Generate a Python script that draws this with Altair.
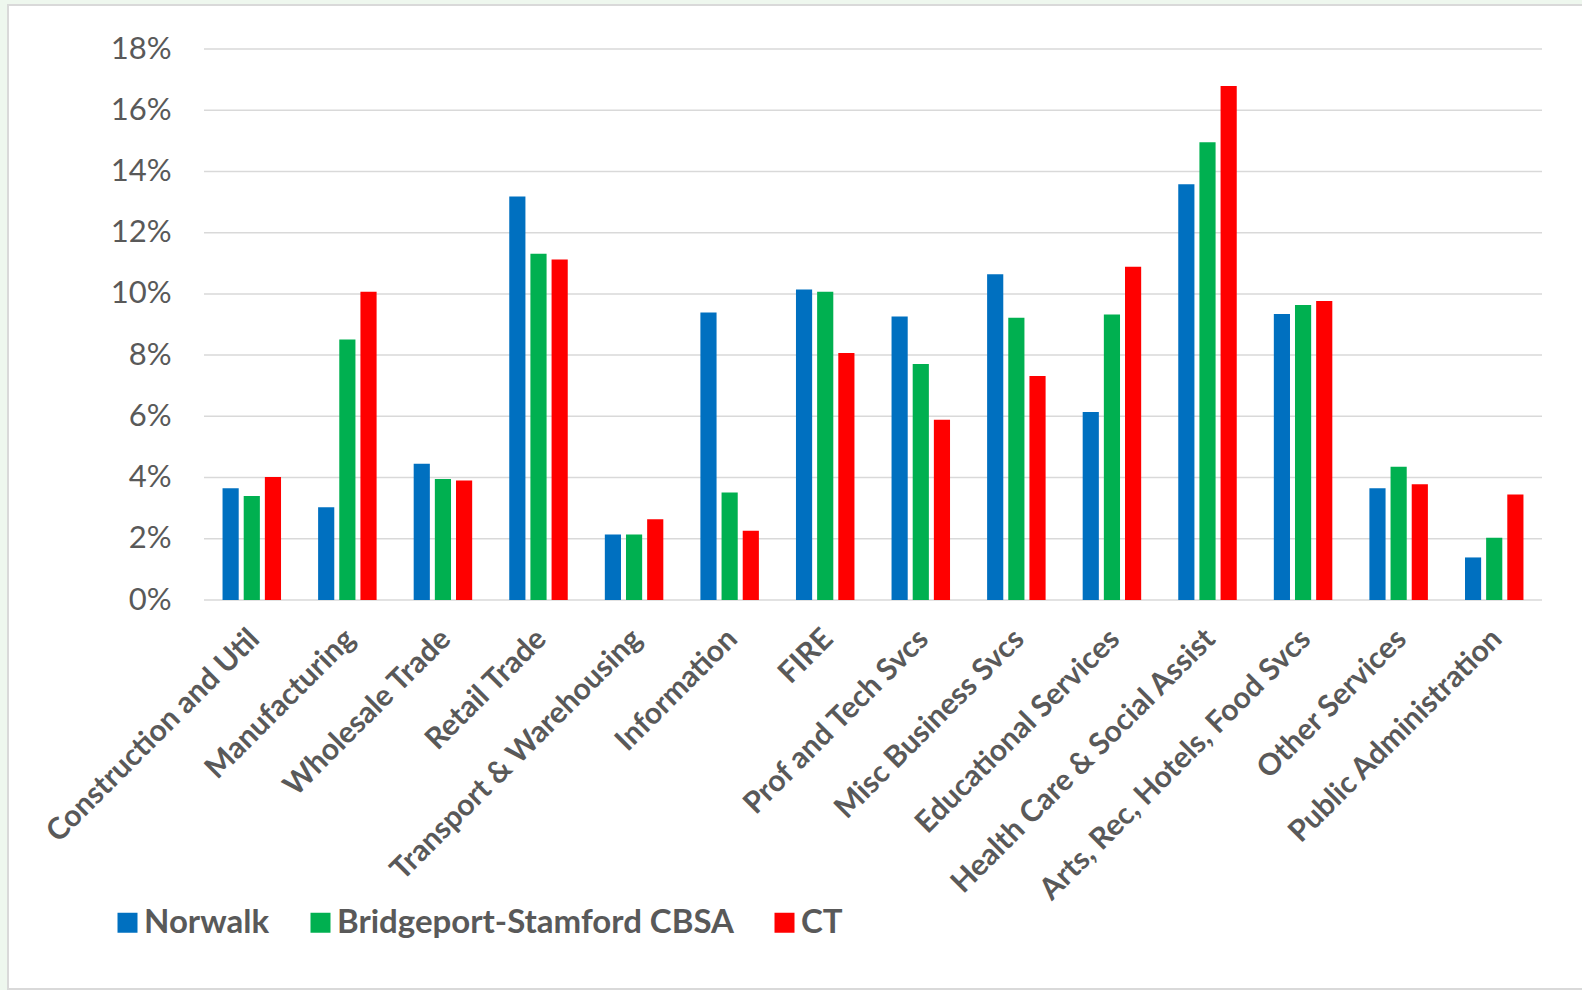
import altair as alt
import pandas as pd

# Industry categories along the x axis
categories = [
    "Construction and Util",
    "Manufacturing",
    "Wholesale Trade",
    "Retail Trade",
    "Transport & Warehousing",
    "Information",
    "FIRE",
    "Prof and Tech Svcs",
    "Misc Business Svcs",
    "Educational Services",
    "Health Care & Social Assist",
    "Arts, Rec, Hotels, Food Svcs",
    "Other Services",
    "Public Administration",
]

series = ["Norwalk", "Bridgeport-Stamford CBSA", "CT"]
colors = ["#0070C0", "#00B050", "#FF0000"]

# Share of employment by industry, in percent
norwalk = [3.65, 3.03, 4.45, 13.18, 2.14, 9.39, 10.14, 9.26, 10.64, 6.14, 13.58, 9.34, 3.65, 1.39]
bridgeport = [3.40, 8.51, 3.95, 11.31, 2.14, 3.51, 10.07, 7.71, 9.22, 9.33, 14.95, 9.64, 4.35, 2.03]
ct = [4.02, 10.07, 3.90, 11.12, 2.64, 2.26, 8.07, 5.89, 7.32, 10.89, 16.79, 9.77, 3.78, 3.45]

y_ticks = [0, 2, 4, 6, 8, 10, 12, 14, 16, 18]

rows = []
for name, vals in zip(series, [norwalk, bridgeport, ct]):
    for cat, v in zip(categories, vals):
        rows.append({"category": cat, "series": name, "share": v / 100})
df = pd.DataFrame(rows)
grid_df = pd.DataFrame({"share": [t / 100 for t in y_ticks]})

TEXT = "#595959"
FONT = "Lato"
PLOT_W, PLOT_H = 1338, 551

y_scale = alt.Scale(domain=[0, 0.18], nice=False, zero=True)
y_axis = alt.Axis(
    values=[t / 100 for t in y_ticks],
    format=".0%",
    grid=False,
    domain=False,
    ticks=False,
    labelFont=FONT,
    labelFontSize=31,
    labelColor=TEXT,
    labelPadding=33,
    title=None,
    zindex=1,
)

# white card with a light border behind everything
card = alt.Chart(pd.DataFrame({"k": [0]})).mark_rect(
    fill="white", stroke="#d9d9d9", strokeWidth=2
).encode(
    x=alt.value(-196), x2=alt.value(1400), y=alt.value(-44), y2=alt.value(940)
)

gridlines = alt.Chart(grid_df).mark_rule(color="#d9d9d9", strokeWidth=1.5).encode(
    y=alt.Y("share:Q", scale=y_scale, axis=y_axis),
    x=alt.value(0),
    x2=alt.value(PLOT_W),
)

bars = alt.Chart(df).mark_bar().encode(
    x=alt.X(
        "category:N",
        sort=categories,
        scale=alt.Scale(paddingInner=0.388, paddingOuter=0.194),
        axis=alt.Axis(
            title=None,
            labelAngle=-45,
            labelAlign="right",
            labelBaseline="middle",
            labelFont=FONT,
            labelFontWeight="bold",
            labelFontSize=30,
            labelColor=TEXT,
            labelLimit=0,
            labelPadding=34,
            labelOffset=3,
            domain=False,
            ticks=False,
            grid=False,
            zindex=1,
        ),
    ),
    xOffset=alt.XOffset(
        "series:N", sort=series, scale=alt.Scale(paddingInner=0.236, paddingOuter=0)
    ),
    y=alt.Y("share:Q", scale=y_scale, axis=y_axis),
    color=alt.Color(
        "series:N",
        sort=series,
        scale=alt.Scale(domain=series, range=colors),
        legend=alt.Legend(
            title=None,
            orient="none",
            direction="horizontal",
            legendX=-93,
            legendY=857,
            symbolType="square",
            symbolSize=400,
            symbolStrokeWidth=0,
            symbolOpacity=1,
            labelFont=FONT,
            labelFontWeight="bold",
            labelFontSize=33,
            labelColor=TEXT,
            labelLimit=0,
            labelOffset=0,
            columnPadding=34,
            padding=0,
            zindex=1,
        ),
    ),
)

chart = alt.layer(card, gridlines, bars).properties(
    width=PLOT_W,
    height=PLOT_H,
    autosize=alt.AutoSizeParams(type="none"),
    padding={"left": 204, "top": 49, "right": 40, "bottom": 390},
    background="#eef7ee",
).configure_view(stroke=None)

chart.save("out.html", embed_options={"renderer": "svg", "actions": False})
